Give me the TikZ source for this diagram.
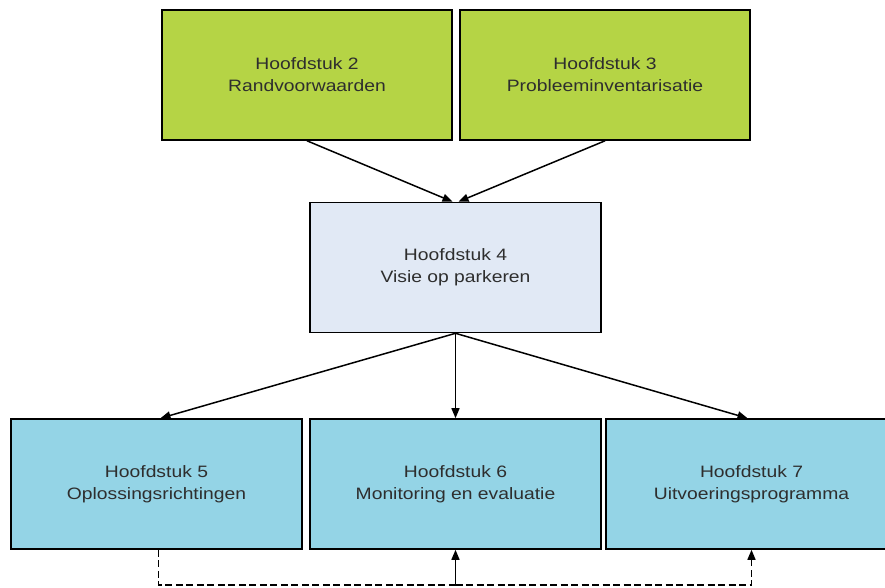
\documentclass[tikz,border=0pt]{standalone}
\usepackage{fontspec}
\setmainfont{Liberation Sans}[FakeStretch=1.17]
\usetikzlibrary{arrows.meta}
\definecolor{grn}{HTML}{B5D445}
\definecolor{pale}{HTML}{E1E9F5}
\definecolor{cyanbox}{HTML}{94D4E6}
\definecolor{txt}{HTML}{2E2E2E}
\tikzset{
  chap/.style={draw=black, line width=1.6pt, minimum width=290pt, minimum height=130pt,
    align=center, inner sep=0pt, text=txt, font=\fontsize{16.5}{22}\selectfont},
  conn/.style={line width=1.5pt, -{Triangle[length=10pt,width=8pt]}},
  dconn/.style={line width=1.5pt, dash pattern=on 7pt off 3.5pt},
}
\begin{document}
\begin{tikzpicture}[x=1pt,y=1pt]
\useasboundingbox (0,0) rectangle (885,-588);
\begin{scope}
\clip (0,0) rectangle (885,-588);
\node[chap, fill=grn] (b2) at (307,-75) {Hoofdstuk 2\\Randvoorwaarden};
\node[chap, fill=grn] (b3) at (605,-75) {Hoofdstuk 3\\Probleeminventarisatie};
\node[chap, fill=pale, minimum width=291pt] (b4) at (455.5,-267.5) {Hoofdstuk 4\\Visie op parkeren};
\node[chap, fill=cyanbox, minimum width=291pt] (b5) at (156.5,-484) {Hoofdstuk 5\\Oplossingsrichtingen};
\node[chap, fill=cyanbox, minimum width=291pt] (b6) at (455.5,-484) {Hoofdstuk 6\\Monitoring en evaluatie};
\node[chap, fill=cyanbox, minimum width=291pt] (b7) at (751.5,-484) {Hoofdstuk 7\\Uitvoeringsprogramma};
\end{scope}
\draw[conn] (b2.south) -- ([xshift=-3pt]b4.north);
\draw[conn] (b3.south) -- ([xshift=3pt]b4.north);
\draw[conn] (b4.south) -- ([xshift=4pt]b5.north);
\draw[conn] (b4.south) -- (b6.north);
\draw[conn] (b4.south) -- ([xshift=-4pt]b7.north);
\coordinate (base) at (0,-585);
\draw[dconn] ([xshift=2pt]b5.south) -- ([xshift=2pt]b5.south |- base) -- (b6.south |- base);
\draw[conn] (b6.south |- base) -- (b6.south);
\draw[dconn, -{Triangle[length=10pt,width=8pt]}] (b6.south |- base) -| (b7.south);
\end{tikzpicture}
\end{document}
